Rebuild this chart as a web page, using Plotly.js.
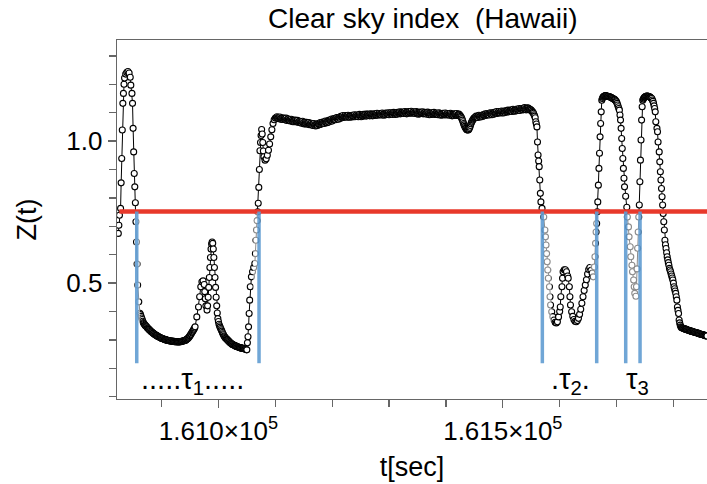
<!DOCTYPE html>
<html>
<head>
<meta charset="utf-8">
<script src="https://cdn.plot.ly/plotly-3.0.1.min.js"></script>
<style>html,body{margin:0;padding:0;background:#fff;}#chart{width:707px;height:484px;}</style>
</head>
<body>
<div id="chart"></div>
<script>
// ---- data: [t (s), Z(t)] ----
const peak1 = [[160824,0.675],[160825,0.704],[160826,0.739],[160828,0.763],[160829,0.853],[160830,0.939],[160831,1.039],[160832,1.133],[160833,1.168],[160834,1.200],[160835,1.222],[160837,1.236],[160839,1.242],[160841,1.245],[160843,1.240],[160845,1.225],[160846,1.197],[160848,1.168],[160849,1.133],[160850,1.045],[160851,0.962],[160852,0.886],[160853,0.839],[160854,0.783],[160855,0.716],[160856,0.645],[160857,0.567],[160858,0.493],[160860,0.434]];
const dip1a = [[160862,0.394],[160863,0.389],[160864,0.383],[160865,0.377],[160866,0.372],[160867,0.366],[160868,0.361],[160869,0.358],[160870,0.355],[160871,0.352],[160872,0.350],[160873,0.348],[160874,0.346],[160875,0.343],[160876,0.341],[160877,0.339],[160878,0.337],[160879,0.335],[160880,0.333],[160881,0.331],[160882,0.329],[160883,0.328],[160884,0.326],[160885,0.324],[160886,0.323],[160887,0.321],[160888,0.320],[160889,0.318],[160890,0.317],[160891,0.316],[160892,0.315],[160893,0.313],[160894,0.312],[160895,0.311],[160896,0.310],[160897,0.309],[160898,0.308],[160899,0.307],[160900,0.306],[160901,0.305],[160902,0.304],[160903,0.304],[160904,0.303],[160905,0.302],[160906,0.301],[160907,0.301],[160908,0.300],[160909,0.300],[160910,0.299],[160911,0.298],[160912,0.298],[160913,0.297],[160914,0.297],[160915,0.296],[160916,0.296],[160917,0.296],[160918,0.296],[160919,0.295],[160920,0.295],[160921,0.295],[160922,0.295],[160923,0.294],[160924,0.294],[160925,0.294],[160926,0.294],[160927,0.294],[160928,0.294],[160929,0.293],[160930,0.293],[160931,0.294],[160932,0.294],[160933,0.294],[160934,0.294],[160935,0.295],[160936,0.295],[160937,0.296],[160938,0.296],[160939,0.297],[160940,0.297],[160941,0.298],[160942,0.299],[160943,0.300],[160944,0.302],[160945,0.303],[160946,0.305],[160947,0.307],[160948,0.309],[160949,0.312],[160950,0.315],[160951,0.318],[160952,0.321],[160953,0.325],[160954,0.328],[160955,0.331],[160956,0.335],[160957,0.338],[160958,0.342]];
const bumps1 = [[160959,0.346],[160962,0.381],[160965,0.416],[160967,0.452],[160969,0.487],[160971,0.505],[160973,0.508],[160975,0.495],[160976,0.470],[160977,0.445],[160978,0.420],[160980,0.405],[160981,0.420],[160982,0.450],[160983,0.485],[160984,0.520],[160985,0.555],[160986,0.590],[160987,0.620],[160988,0.638],[160989,0.645],[160990,0.640],[160991,0.620],[160992,0.590],[160993,0.555],[160994,0.520],[160995,0.485],[160996,0.450],[160997,0.420],[160998,0.395],[160999,0.375],[161000,0.365]];
const dip1b = [[161001,0.355],[161002,0.350],[161003,0.345],[161004,0.340],[161005,0.336],[161006,0.331],[161007,0.326],[161008,0.322],[161009,0.318],[161010,0.314],[161011,0.311],[161012,0.308],[161013,0.306],[161014,0.304],[161015,0.302],[161016,0.300],[161017,0.298],[161018,0.296],[161019,0.294],[161020,0.292],[161021,0.290],[161022,0.288],[161023,0.287],[161024,0.285],[161025,0.284],[161026,0.283],[161027,0.282],[161028,0.281],[161029,0.280],[161030,0.279],[161031,0.278],[161032,0.277],[161033,0.276],[161034,0.276],[161035,0.275],[161036,0.274],[161037,0.273],[161038,0.273],[161039,0.272],[161040,0.272],[161041,0.271],[161042,0.271],[161043,0.270],[161044,0.270],[161045,0.269],[161046,0.269],[161047,0.268],[161048,0.267],[161049,0.266],[161050,0.265]];
const rise1 = [[161051,0.290],[161052,0.311],[161053,0.346],[161054,0.393],[161055,0.440],[161056,0.487],[161058,0.522],[161060,0.540],[161062,0.555],[161064,0.569],[161065,0.604],[161066,0.651],[161067,0.687],[161068,0.720],[161069,0.751],[161070,0.781],[161071,0.837],[161072,0.900],[161073,0.966],[161074,0.995],[161075,1.020],[161076,1.041],[161077,1.025],[161078,0.995],[161079,0.965],[161080,0.945],[161082,0.933],[161084,0.938],[161086,0.950],[161088,0.968],[161090,0.990],[161092,1.015],[161094,1.040],[161096,1.062],[161098,1.075],[161100,1.081],[161102,1.083]];
const plateauA = [[161103,1.086],[161104,1.082],[161105,1.082],[161106,1.079],[161107,1.083],[161108,1.085],[161109,1.079],[161110,1.081],[161111,1.076],[161112,1.080],[161113,1.081],[161114,1.076],[161115,1.081],[161116,1.079],[161117,1.076],[161118,1.076],[161119,1.081],[161120,1.073],[161121,1.076],[161122,1.078],[161123,1.078],[161124,1.074],[161125,1.074],[161126,1.071],[161127,1.076],[161128,1.077],[161129,1.071],[161130,1.074],[161131,1.068],[161132,1.072],[161133,1.073],[161134,1.068],[161135,1.074],[161136,1.071],[161137,1.068],[161138,1.068],[161139,1.073],[161140,1.066],[161141,1.068],[161142,1.070],[161143,1.070],[161144,1.066],[161145,1.067],[161146,1.063],[161147,1.068],[161148,1.070],[161149,1.063],[161150,1.066],[161151,1.060],[161152,1.064],[161153,1.066],[161154,1.060],[161155,1.066],[161156,1.063],[161157,1.060],[161158,1.061],[161159,1.065],[161160,1.058],[161161,1.060],[161162,1.062],[161163,1.063],[161164,1.058],[161165,1.059],[161166,1.055],[161167,1.060],[161168,1.062],[161169,1.055],[161170,1.058],[161171,1.053],
[161172,1.057],[161173,1.059],[161174,1.055],[161175,1.062],[161176,1.060],[161177,1.058],[161178,1.059],[161179,1.065],[161180,1.059],[161181,1.062],[161182,1.065],[161183,1.067],[161184,1.063],[161185,1.065],[161186,1.062],[161187,1.068],[161188,1.071],[161189,1.065],[161190,1.069],[161191,1.065],[161192,1.069],[161193,1.072],[161194,1.067],[161195,1.074],[161196,1.073],[161197,1.070],[161198,1.072],[161199,1.078],[161200,1.071],[161201,1.075],[161202,1.077],[161203,1.079],[161204,1.076],[161205,1.077],[161206,1.075],[161207,1.081],[161208,1.083],[161209,1.078],[161210,1.081],[161211,1.077],[161212,1.082],[161213,1.084],[161214,1.080],[161215,1.087],[161216,1.085],[161217,1.083],[161218,1.084],[161219,1.090]];
const plateauB = [[161220,1.083],[161221,1.086],[161222,1.088],[161223,1.090],[161224,1.086],[161225,1.087],[161226,1.084],[161227,1.089],[161228,1.091],[161229,1.085],[161230,1.088],[161231,1.084],[161232,1.088],[161233,1.090],[161234,1.085],[161235,1.091],[161236,1.089],[161237,1.086],[161238,1.087],[161239,1.093],[161240,1.086],[161241,1.089],[161242,1.091],[161243,1.092],[161244,1.088],[161245,1.089],[161246,1.086],[161247,1.092],[161248,1.094],[161249,1.088],[161250,1.091],[161251,1.086],[161252,1.090],[161253,1.092],[161254,1.088],[161255,1.094],[161256,1.092],[161257,1.089],[161258,1.090],[161259,1.095],[161260,1.088],[161261,1.091],[161262,1.094],[161263,1.095],[161264,1.091],[161265,1.092],[161266,1.089],[161267,1.094],[161268,1.096],[161269,1.090],[161270,1.094],[161271,1.089],[161272,1.093],[161273,1.095],[161274,1.090],[161275,1.096],[161276,1.094],[161277,1.091],[161278,1.093],[161279,1.098],[161280,1.091],[161281,1.094],[161282,1.096],[161283,1.097],[161284,1.093],[161285,1.094],[161286,1.092],[161287,1.097],[161288,1.099],[161289,1.093],[161290,1.096],[161291,1.091],[161292,1.095],[161293,1.098],[161294,1.093],[161295,1.099],[161296,1.097],[161297,1.094],[161298,1.095],[161299,1.100],[161300,1.093],[161301,1.097],[161302,1.099],[161303,1.100],[161304,1.096],[161305,1.097],[161306,1.094],[161307,1.099],[161308,1.101],[161309,1.096],[161310,1.099],[161311,1.094],[161312,1.098],[161313,1.100],[161314,1.095],[161315,1.101],[161316,1.099],[161317,1.097],[161318,1.098],[161319,1.103],[161320,1.096],[161321,1.099],[161322,1.101],[161323,1.102],[161324,1.099],[161325,1.100],[161326,1.097],[161327,1.102],[161328,1.104],[161329,1.098],[161330,1.101],[161331,1.096],[161332,1.101],[161333,1.103],[161334,1.098],[161335,1.104],
[161336,1.102],[161337,1.099],[161338,1.100],[161339,1.105],[161340,1.098],[161341,1.100],[161342,1.102],[161343,1.103],[161344,1.099],[161345,1.100],[161346,1.097],[161347,1.102],[161348,1.104],[161349,1.098],[161350,1.101],[161351,1.095],[161352,1.099],[161353,1.101],[161354,1.096],[161355,1.102],[161356,1.100],[161357,1.097],[161358,1.098],[161359,1.103],[161360,1.096],[161361,1.098],[161362,1.100],[161363,1.101],[161364,1.097],[161365,1.098],[161366,1.095],[161367,1.100],[161368,1.102],[161369,1.096],[161370,1.099],[161371,1.093],[161372,1.097],[161373,1.099],[161374,1.094],[161375,1.100],[161376,1.098],[161377,1.095],[161378,1.096],[161379,1.101],[161380,1.094],[161381,1.096],[161382,1.098],[161383,1.099],[161384,1.095],[161385,1.096],[161386,1.093],[161387,1.098],[161388,1.100],[161389,1.094],[161390,1.097],[161391,1.091],[161392,1.095],[161393,1.097],[161394,1.092],[161395,1.098],[161396,1.096],[161397,1.093],[161398,1.094],[161399,1.099],[161400,1.092],[161401,1.094],[161402,1.096],[161403,1.097],[161404,1.093],[161405,1.094],[161406,1.091],[161407,1.096],[161408,1.098],[161409,1.092],[161410,1.095],[161411,1.089],[161412,1.093],[161413,1.095],[161414,1.090],[161415,1.096],[161416,1.094],[161417,1.091],[161418,1.092],[161419,1.097],[161420,1.090],[161421,1.092],[161422,1.094],[161423,1.095]];
const notch = [[161424,1.092],[161425,1.090],[161426,1.087],[161427,1.084],[161428,1.079],[161429,1.074],[161430,1.068],[161431,1.062],[161432,1.057],[161433,1.052],[161434,1.048],[161435,1.045],[161436,1.042],[161437,1.040],[161438,1.039],[161439,1.039],[161440,1.041],[161441,1.044],[161442,1.049],[161443,1.055],[161444,1.061],[161445,1.066],[161446,1.070],[161447,1.074],[161448,1.077],[161449,1.080],[161450,1.082],[161451,1.083],[161452,1.085]];
const plateauC = [[161453,1.088],[161454,1.084],[161455,1.086],[161456,1.083],[161457,1.089],[161458,1.091],[161459,1.086],[161460,1.089],[161461,1.085],[161462,1.089],[161463,1.091],[161464,1.087],[161465,1.093],[161466,1.092],[161467,1.089],[161468,1.091],[161469,1.096],[161470,1.090],[161471,1.093],[161472,1.095],[161473,1.097],[161474,1.093],[161475,1.095],[161476,1.092],[161477,1.098],[161478,1.100],[161479,1.095],[161480,1.098],[161481,1.093],[161482,1.098],[161483,1.100],[161484,1.095],[161485,1.101],[161486,1.100],[161487,1.097],[161488,1.098],[161489,1.104],[161490,1.097],[161491,1.100],[161492,1.102],[161493,1.104],[161494,1.100],[161495,1.101],[161496,1.099],[161497,1.104],[161498,1.106],[161499,1.100],[161500,1.104],[161501,1.099],[161502,1.103],[161503,1.106],[161504,1.101],[161505,1.107],[161506,1.105],[161507,1.103],[161508,1.104],[161509,1.109],[161510,1.103],[161511,1.106],[161512,1.108],[161513,1.109],[161514,1.106],[161515,1.107],[161516,1.104],[161517,1.110],[161518,1.112],[161519,1.106],[161520,1.109],[161521,1.105],[161522,1.109],[161523,1.111],[161524,1.107],[161525,1.113],[161526,1.111],[161527,1.108],[161528,1.110],[161529,1.115],[161530,1.108],[161531,1.112],[161532,1.114],[161533,1.115],[161534,1.111],[161535,1.113],[161536,1.110],[161537,1.115],[161538,1.118],[161539,1.112],[161540,1.115],[161541,1.110],[161542,1.115],[161543,1.117],[161544,1.111],[161545,1.116],[161546,1.113],[161547,1.111],[161548,1.112],[161549,1.109],[161550,1.109],[161551,1.105],[161552,1.104],[161553,1.101],[161554,1.098],[161555,1.093],[161556,1.088],[161557,1.082],[161558,1.068],[161559,1.060],[161560,1.050]];
const fall2 = [[161561,0.997],[161562,0.951],[161563,0.930],[161564,0.910],[161565,0.863],[161566,0.816],[161567,0.786],[161569,0.763],[161572,0.733],[161574,0.687],[161575,0.663],[161576,0.634],[161577,0.604],[161578,0.575],[161579,0.546],[161580,0.517],[161582,0.487],[161583,0.452],[161584,0.423],[161586,0.399],[161588,0.382],[161590,0.370],[161592,0.362],[161594,0.360],[161596,0.364],[161598,0.381],[161600,0.400],[161601,0.416],[161602,0.452],[161604,0.487],[161605,0.517],[161606,0.540],[161608,0.547],[161610,0.547],[161612,0.540],[161614,0.525],[161615,0.517],[161617,0.487],[161618,0.452],[161619,0.423],[161621,0.399],[161623,0.383],[161625,0.372],[161627,0.366],[161629,0.364],[161631,0.368],[161633,0.376],[161635,0.390],[161637,0.408],[161639,0.429],[161641,0.452],[161643,0.474],[161645,0.493],[161647,0.512],[161649,0.532],[161651,0.548],[161653,0.555],[161655,0.545],[161657,0.535],[161659,0.522],[161661,0.557],[161662,0.593],[161663,0.640],[161664,0.680],[161665,0.710],[161666,0.751]];
const peak2 = [[161667,0.786],[161668,0.845],[161669,0.904],[161670,0.957],[161671,1.015],[161672,1.062],[161673,1.103],[161674,1.144],[161675,1.150],[161676,1.154],[161677,1.157],[161678,1.158],[161679,1.159],[161680,1.160],[161681,1.160],[161682,1.159],[161683,1.159],[161684,1.158],[161685,1.158],[161686,1.157],[161687,1.156],[161688,1.156],[161689,1.155],[161690,1.154],[161691,1.153],[161692,1.152],[161693,1.151],[161694,1.150],[161695,1.148],[161696,1.147],[161697,1.146],[161698,1.144],[161699,1.141],[161700,1.138],[161701,1.133],[161702,1.127],[161703,1.121],[161704,1.115],[161705,1.109],[161706,1.092],[161707,1.074],[161708,1.045],[161709,1.009],[161710,0.974],[161711,0.939],[161712,0.904],[161713,0.869],[161714,0.839],[161716,0.806],[161718,0.767]];
const dip3 = [[161719,0.733],[161721,0.698],[161722,0.663],[161724,0.628],[161725,0.593],[161727,0.563],[161728,0.540],[161730,0.511],[161731,0.487],[161732,0.464],[161734,0.454],[161735,0.487],[161736,0.550],[161737,0.623],[161738,0.680],[161739,0.733],[161740,0.775]];
const peak3 = [[161741,0.857],[161742,0.933],[161743,1.004],[161744,1.074],[161745,1.121],[161746,1.144],[161747,1.148],[161748,1.152],[161749,1.154],[161750,1.156],[161751,1.157],[161752,1.158],[161753,1.159],[161754,1.159],[161755,1.158],[161756,1.158],[161757,1.157],[161758,1.156],[161759,1.155],[161760,1.153],[161761,1.152],[161762,1.150],[161763,1.145],[161764,1.140],[161765,1.133],[161766,1.124],[161767,1.115],[161768,1.103],[161769,1.068],[161771,1.045],[161772,1.033],[161773,0.997],[161775,0.962],[161776,0.927],[161777,0.892],[161778,0.863],[161779,0.833],[161780,0.804],[161781,0.775],[161782,0.745],[161783,0.716],[161784,0.687],[161785,0.651],[161786,0.635],[161787,0.622],[161788,0.607],[161789,0.593],[161790,0.582],[161791,0.572],[161792,0.563],[161793,0.552],[161794,0.546],[161795,0.540],[161796,0.532],[161797,0.525],[161798,0.518],[161799,0.511],[161800,0.500],[161801,0.487],[161802,0.480],[161803,0.472],[161804,0.464],[161805,0.452],[161806,0.440],[161807,0.416],[161808,0.404],[161809,0.393],[161810,0.370],[161811,0.360],[161812,0.352]];
const tail = [[161813,0.346],[161814,0.344],[161815,0.343],[161816,0.342],[161817,0.341],[161818,0.340],[161819,0.339],[161820,0.339],[161821,0.338],[161822,0.337],[161823,0.337],[161824,0.336],[161825,0.335],[161826,0.334],[161827,0.334],[161828,0.333],[161829,0.332],[161830,0.331],[161831,0.331],[161832,0.330],[161833,0.330],[161834,0.329],[161835,0.329],[161836,0.328],[161837,0.327],[161838,0.327],[161839,0.326],[161840,0.325],[161841,0.325],[161842,0.324],[161843,0.324],[161844,0.323],[161845,0.322],[161846,0.322],[161847,0.321],[161848,0.320],[161849,0.320],[161850,0.319],[161851,0.319],[161852,0.318],[161853,0.317],[161854,0.317],[161855,0.316],[161856,0.315],[161857,0.315],[161858,0.314],[161859,0.314]];

const threshold = 0.752;
const crossTimes = [160856.4, 161071.4, 161569.5, 161665.1, 161716.1, 161741.3];
const crossBottom = 0.218;
const fadeSpans = [[160852.5,160862.2],[161061,161069.5],[161571,161585.6],[161654,161665],[161718.5,161740]];
const tauLabels = ['.....τ<sub>1</sub>.....', '.τ<sub>2</sub>.', 'τ<sub>3</sub>'];
const tauTimes = [160955, 161619, 161737];
const tauLevel = 0.155;
const xTickVals = [161000, 161500];
const xTickText = ['1.610×10<sup>5</sup>', '1.615×10<sup>5</sup>'];
const yTickVals = [0.5, 1.0];
const yTickText = ['0.5', '1.0'];

// ---- figure ----
const series = [].concat(peak1, dip1a, bumps1, dip1b, rise1, plateauA, plateauB, notch, plateauC, fall2, peak2, dip3, peak3, tail);
const FONT = 'Liberation Sans, Arial, Helvetica, sans-serif';
const trace = {
  x: series.map(p => p[0]), y: series.map(p => p[1]), type: 'scatter', mode: 'lines+markers',
  line: {color: '#000', width: 1},
  marker: {symbol: 'circle', size: 6, color: '#fff', line: {color: '#000', width: 1.1}},
  hoverinfo: 'skip', showlegend: false
};

const shapes = [];
fadeSpans.forEach(s => shapes.push({
  type: 'rect', xref: 'x', yref: 'y', x0: s[0], x1: s[1], y0: crossBottom, y1: threshold - 0.006,
  fillcolor: 'rgba(255,255,255,0.55)', line: {width: 0}, layer: 'above'
}));
shapes.push({type: 'line', xref: 'paper', yref: 'y', x0: 0.004, x1: 1, y0: threshold, y1: threshold,
  line: {color: '#e8392b', width: 4.5}, layer: 'above'});
crossTimes.forEach(t => shapes.push({
  type: 'line', xref: 'x', yref: 'y', x0: t, x1: t, y0: crossBottom, y1: threshold,
  line: {color: 'rgba(96,156,210,0.9)', width: 3.5}, layer: 'above'
}));

const annotations = tauLabels.map((txt, i) => ({
  x: tauTimes[i], y: tauLevel, xref: 'x', yref: 'y', text: txt, showarrow: false,
  font: {family: FONT, size: 29, color: '#000'}, xanchor: 'center', yanchor: 'middle'
}));

const layout = {
  width: 707, height: 484,
  margin: {l: 117, r: 0, t: 40, b: 85},
  paper_bgcolor: '#fff', plot_bgcolor: '#fff',
  font: {family: FONT, size: 26, color: '#000'},
  title: {text: 'Clear sky index  (Hawaii)', x: 0.598, xanchor: 'center', y: 0.962, yanchor: 'middle',
          font: {family: FONT, size: 28, color: '#000'}},
  xaxis: {
    range: [160821.7, 161859], showgrid: false, zeroline: false,
    showline: true, linecolor: '#666', linewidth: 1.3, mirror: true,
    tickmode: 'array', tickvals: xTickVals, ticktext: xTickText,
    ticks: 'outside', ticklen: 8, tickcolor: '#666', tickwidth: 1.3,
    tickfont: {family: FONT, size: 26, color: '#000'},
    minor: {tickmode: 'linear', tick0: 161000, dtick: 100, ticks: 'outside', ticklen: 7, tickcolor: '#666', tickwidth: 1.3},
    title: {text: 't[sec]', font: {family: FONT, size: 27, color: '#000'}, standoff: 12}
  },
  yaxis: {
    range: [0.092, 1.356], showgrid: false, zeroline: false,
    showline: true, linecolor: '#666', linewidth: 1.3, mirror: true,
    tickmode: 'array', tickvals: yTickVals, ticktext: yTickText,
    ticks: 'outside', ticklen: 8, tickcolor: '#666', tickwidth: 1.3,
    tickfont: {family: FONT, size: 26, color: '#000'},
    minor: {tickmode: 'linear', tick0: 0, dtick: 0.1, ticks: 'outside', ticklen: 7, tickcolor: '#666', tickwidth: 1.3},
    title: {text: 'Z(t)', font: {family: FONT, size: 27, color: '#000'}, standoff: 22}
  },
  shapes: shapes,
  annotations: annotations
};

Plotly.newPlot('chart', [trace], layout, {displayModeBar: false, staticPlot: true});
</script>
</body>
</html>
